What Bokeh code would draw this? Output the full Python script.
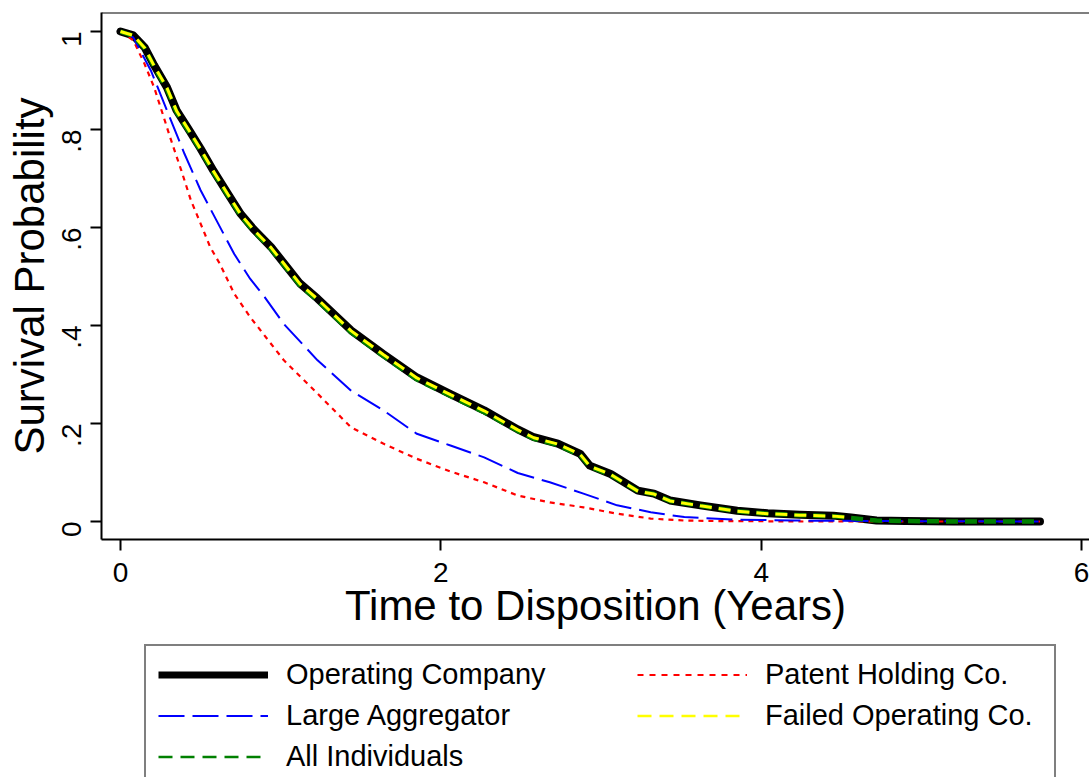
import math
from bokeh.plotting import figure
from bokeh.layouts import column
from bokeh.models import Range1d, FixedTicker, Legend, LegendItem, Span
from bokeh.embed import file_html
from bokeh.resources import INLINE

# ---- data ----
# Operating Company
op_t = [0, 0.08, 0.15, 0.21, 0.29, 0.35, 0.43, 0.5, 0.58, 0.67, 0.75, 0.83, 0.94, 1.04, 1.12, 1.23,
        1.44, 1.64, 1.85, 2.06, 2.27, 2.48, 2.58, 2.73, 2.87, 2.93, 3.06, 3.23, 3.33, 3.43, 3.62,
        3.85, 4.04, 4.24, 4.45, 4.56, 4.72, 4.9, 5.2, 5.74]
op_s = [1.0, 0.992, 0.968, 0.931, 0.886, 0.839, 0.798, 0.761, 0.716, 0.669, 0.628, 0.597, 0.56, 0.519,
        0.486, 0.455, 0.39, 0.342, 0.294, 0.26, 0.227, 0.188, 0.172, 0.159, 0.138, 0.114, 0.097, 0.063,
        0.057, 0.043, 0.033, 0.022, 0.017, 0.014, 0.012, 0.008, 0.002, 0.001, 0.0, 0.0]

# Patent Holding Co.
ph_t = [0, 0.08, 0.15, 0.21, 0.27, 0.31, 0.38, 0.44, 0.5, 0.56, 0.62, 0.71, 0.81, 1.02, 1.23, 1.44,
        1.64, 1.85, 2.06, 2.27, 2.48, 2.68, 2.89, 3.1, 3.31, 3.52, 3.72, 4.3, 5.74]
ph_s = [1.0, 0.982, 0.934, 0.886, 0.825, 0.784, 0.716, 0.655, 0.608, 0.56, 0.526, 0.465, 0.417, 0.329,
        0.261, 0.192, 0.159, 0.128, 0.102, 0.08, 0.053, 0.039, 0.029, 0.016, 0.006, 0.002, 0.001, 0.0, 0.0]

# Large Aggregator
la_t = [0, 0.08, 0.19, 0.29, 0.4, 0.5, 0.6, 0.71, 0.81, 0.9, 1.02, 1.23, 1.44, 1.64, 1.85, 2.06,
        2.27, 2.48, 2.68, 2.89, 3.1, 3.31, 3.52, 3.83, 4.2, 4.7, 5.74]
la_s = [1.0, 0.988, 0.92, 0.839, 0.75, 0.676, 0.614, 0.546, 0.495, 0.458, 0.403, 0.329, 0.267, 0.227,
        0.179, 0.155, 0.131, 0.099, 0.08, 0.057, 0.033, 0.019, 0.009, 0.004, 0.002, 0.001, 0.0]

# Failed Operating Co.
fo_t = [0, 0.08, 0.15, 0.21, 0.29, 0.35, 0.43, 0.5, 0.58, 0.67, 0.75, 0.83, 0.94, 1.04, 1.12, 1.23,
        1.44, 1.64, 1.85, 2.06, 2.27, 2.48, 2.58, 2.73, 2.87, 2.93, 3.06, 3.23, 3.33, 3.43, 3.62,
        3.85, 4.04, 4.24, 4.45, 4.56]
fo_s = [1.0, 0.992, 0.967, 0.93, 0.885, 0.838, 0.797, 0.76, 0.715, 0.668, 0.627, 0.596, 0.559, 0.518,
        0.485, 0.454, 0.389, 0.341, 0.293, 0.259, 0.226, 0.187, 0.171, 0.158, 0.137, 0.113, 0.096,
        0.062, 0.056, 0.042, 0.032, 0.021, 0.016, 0.013, 0.011, 0.008]

# All Individuals
ai_t = [0, 0.08, 0.15, 0.21, 0.29, 0.35, 0.43, 0.5, 0.58, 0.67, 0.75, 0.83, 0.94, 1.04, 1.12, 1.23,
        1.44, 1.64, 1.85, 2.06, 2.27, 2.48, 2.58, 2.73, 2.87, 2.93, 3.06, 3.23, 3.33, 3.43, 3.62,
        3.85, 4.04, 4.24, 4.45, 4.56, 4.72, 4.9, 5.2, 5.74]
ai_s = [1.0, 0.991, 0.966, 0.928, 0.882, 0.835, 0.794, 0.757, 0.712, 0.665, 0.624, 0.593, 0.556, 0.515,
        0.482, 0.451, 0.386, 0.338, 0.29, 0.256, 0.223, 0.185, 0.169, 0.156, 0.135, 0.112, 0.095,
        0.062, 0.056, 0.042, 0.032, 0.021, 0.016, 0.013, 0.011, 0.007, 0.002, 0.001, 0.0, 0.0]

x_ticks = [0, 2, 4, 6]
x_tick_labels = ["0", "2", "4", "6"]
y_ticks = [0, 0.2, 0.4, 0.6, 0.8, 1.0]
y_tick_labels = ["0", ".2", ".4", ".6", ".8", "1"]

FONT = "Liberation Sans"

# ---- styles (plot lines) ----
ST_OP = dict(line_color="black", line_width=8, line_join="round", line_cap="round")
ST_PH = dict(line_color="#ff0000", line_width=2.2, line_dash="5 5")
ST_LA = dict(line_color="#0000ff", line_width=2, line_dash="26 8")
ST_AI = dict(line_color="#008000", line_width=4.5, line_dash="12 7")
ST_FO = dict(line_color="#ffff00", line_width=3, line_dash="12 7")
# ---- styles (legend keys) ----
LG_OP = dict(line_color="black", line_width=7)
LG_PH = dict(line_color="#ff0000", line_width=2, line_dash="6 6")
LG_LA = dict(line_color="#0000ff", line_width=2, line_dash="26 8")
LG_AI = dict(line_color="#008000", line_width=2.5, line_dash="14 8")
LG_FO = dict(line_color="#ffff00", line_width=2.5, line_dash="14 8")

p = figure(width=1089, height=640, output_backend="svg", toolbar_location=None,
           x_range=Range1d(-0.1186, 6.049), y_range=Range1d(-0.0367, 1.0388),
           min_border_left=101, min_border_right=0, min_border_top=12, min_border_bottom=101)
p.outline_line_color = None
p.xgrid.visible = False
p.ygrid.visible = False
p.background_fill_color = "white"
p.border_fill_color = "white"

for ax in (p.xaxis[0], p.yaxis[0]):
    ax.axis_line_width = 2
    ax.axis_line_color = "black"
    ax.major_tick_line_width = 2
    ax.major_tick_line_color = "black"
    ax.major_tick_out = 11
    ax.major_tick_in = 0
    ax.minor_tick_line_color = None
    ax.major_label_text_font = FONT
    ax.major_label_text_font_size = "28px"
    ax.major_label_text_color = "black"
    ax.axis_label_text_font = FONT
    ax.axis_label_text_font_size = "42px"
    ax.axis_label_text_font_style = "normal"
    ax.axis_label_text_color = "black"

p.xaxis[0].ticker = FixedTicker(ticks=x_ticks)
p.xaxis[0].major_label_overrides = dict(zip(x_ticks, x_tick_labels))
p.xaxis[0].axis_label = "Time to Disposition (Years)"
p.xaxis[0].major_label_standoff = 12
p.xaxis[0].axis_label_standoff = -3

p.yaxis[0].ticker = FixedTicker(ticks=y_ticks)
p.yaxis[0].major_label_overrides = dict(zip(y_ticks, y_tick_labels))
p.yaxis[0].major_label_orientation = math.pi / 2
p.yaxis[0].axis_label = "Survival Probability"
p.yaxis[0].major_label_standoff = 19
p.yaxis[0].axis_label_standoff = -3

p.add_layout(Span(location=1.0388, dimension="width", line_color="black", line_width=2))

p.line(op_t, op_s, **ST_OP)
p.line(ph_t, ph_s, **ST_PH)
p.line(la_t, la_s, **ST_LA)
p.line(ai_t, ai_s, **ST_AI)
p.line(fo_t, fo_s, **ST_FO)

# ---- legend panel (second canvas directly below the plot; its frame is aligned to the plot's) ----
q = figure(width=1089, height=137, output_backend="svg", toolbar_location=None,
           x_axis_type=None, y_axis_type=None, x_range=Range1d(0, 1), y_range=Range1d(0, 1),
           min_border_left=0, min_border_right=0, min_border_top=0, min_border_bottom=0)
q.outline_line_color = None
q.xgrid.visible = False
q.ygrid.visible = False
q.background_fill_color = "white"
q.border_fill_color = "white"

# proxy renderers (outside the visible range) that carry the legend key styles
g_op = q.line([-5, -4], [-5, -5], **LG_OP)
g_ph = q.line([-5, -4], [-5, -5], **LG_PH)
g_la = q.line([-5, -4], [-5, -5], **LG_LA)
g_ai = q.line([-5, -4], [-5, -5], **LG_AI)
g_fo = q.line([-5, -4], [-5, -5], **LG_FO)

common = dict(orientation="vertical", padding=12, spacing=8, glyph_width=110, glyph_height=33,
              label_height=33, label_standoff=18, label_text_font=FONT,
              label_text_font_size="29px", label_text_color="black", margin=0)

legA = Legend(items=[LegendItem(label="Operating Company", renderers=[g_op]),
                     LegendItem(label="Large Aggregator", renderers=[g_la]),
                     LegendItem(label="All Individuals", renderers=[g_ai])],
              location=(43, -10), border_line_color="black", border_line_width=2,
              background_fill_color="white", background_fill_alpha=1.0,
              label_width=756, **common)
legB = Legend(items=[LegendItem(label="Patent Holding Co.", renderers=[g_ph]),
                     LegendItem(label="Failed Operating Co.", renderers=[g_fo])],
              location=(536, 45), border_line_color=None, background_fill_alpha=0.0,
              label_width=20, **common)
q.add_layout(legA)
q.add_layout(legB)

layout = column(p, q, spacing=0)
open("out.html", "w").write(file_html(layout, INLINE))
